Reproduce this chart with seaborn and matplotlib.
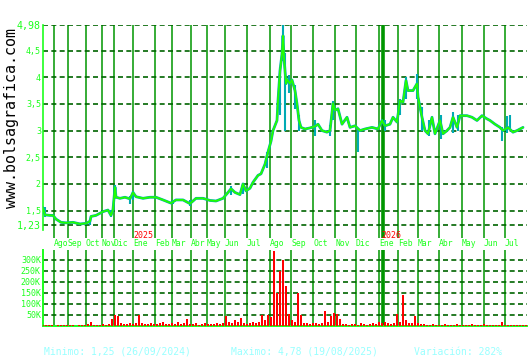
import numpy as np
import pandas as pd
import matplotlib
matplotlib.use("Agg")
import matplotlib.pyplot as plt
import seaborn as sns
from matplotlib.transforms import blended_transform_factory

# ---------------- data ----------------
price_day = [0,2,7,10,13,18,23,30,37,43,
             47,48,53,60,65,68,70,72,73,77,
             82,87,90,93,100,107,113,120,128,133,
             140,147,153,160,167,173,180,185,188,192,
             197,200,203,207,210,215,218,222,225,228,
             230,234,235,237,239,240,241,243,244,247,
             249,252,254,256,258,262,267,272,275,279,
             284,287,290,292,295,299,304,307,312,317,
             322,329,335,339,342,347,350,354,357,360,
             363,365,370,374,375,379,382,385,389,392,
             397,400,404,407,410,414,417,424,429,434,
             439,444,447,452,457,460,465,470,474,477,
             480]
price_close = [1.55,1.42,1.41,1.41,1.34,1.28,1.27,1.28,1.25,1.26,
               1.30,1.39,1.41,1.48,1.51,1.41,1.52,1.94,1.75,1.73,
               1.75,1.72,1.84,1.76,1.73,1.75,1.75,1.70,1.64,1.70,
               1.70,1.63,1.73,1.73,1.69,1.68,1.73,1.84,1.91,1.84,
               1.80,2.00,1.87,1.92,2.03,2.16,2.19,2.37,2.60,2.80,
               3.00,3.19,3.56,4.12,4.44,4.78,4.37,3.88,3.96,3.88,
               3.95,3.75,3.50,3.19,3.06,3.03,3.05,3.08,3.12,3.00,
               2.97,3.00,3.51,3.38,3.41,3.12,3.25,3.06,3.09,3.00,
               3.03,3.06,3.03,3.19,3.09,3.12,3.25,3.16,3.56,3.53,
               3.94,3.75,3.75,3.88,3.63,3.25,3.00,2.94,3.25,2.94,
               3.19,2.94,3.00,3.06,3.25,3.06,3.28,3.28,3.25,3.19,
               3.28,3.22,3.19,3.12,3.06,3.00,3.06,2.97,3.00,3.03,
               3.06]

spike_day = [2,47,68,72,87,90,130,147,188,200,
             224,237,240,242,246,252,256,272,287,290,
             315,342,357,363,374,379,386,398,410,415,
             459,464,467]
spike_lo = [1.38,1.23,1.38,1.75,1.62,1.70,1.62,1.58,1.80,1.82,
            2.30,3.30,4.30,3.00,3.70,3.40,3.00,2.90,2.90,3.20,
            2.60,3.00,3.30,3.60,3.60,3.00,2.90,2.85,2.95,3.00,
            2.80,2.95,3.05]
spike_hi = [1.57,1.35,1.52,1.98,1.78,1.86,1.70,1.70,1.97,2.02,
            2.60,4.20,4.98,4.45,4.05,3.85,3.30,3.20,3.10,3.55,
            3.05,3.20,3.60,4.00,4.06,3.45,3.20,3.30,3.35,3.30,
            3.06,3.28,3.30]

# volume in thousands, one bar every 3 trading days
volume_k = [4,3,5,3,2,4,3,5,3,4,3,2,4,6,5,8,18,6,4,5,8,6,10,
            30,48,45,15,
            10,8,12,9,14,
            52,
            12,8,10,15,9,7,12,20,10,8,14,10,18,9,12,
            30,
            10,8,12,6,9,14,8,10,7,12,9,15,
            45,
            20,15,25,18,
            37,
            15,10,12,20,14,18,
            48,25,52,40,340,150,250,300,180,55,25,20,150,50,
            15,12,10,14,12,10,15,
            70,20,45,60,55,30,
            10,8,6,10,7,5,12,8,6,9,14,10,
            18,15,20,12,
            10,15,55,20,140,25,12,15,45,15,
            10,8,6,5,8,4,6,5,7,4,5,6,8,5,4,6,5,7,4,6,5,8,4,5,6,4,5,20,6,4,5,3,5,4,6,4]
volume_day = list(np.arange(len(volume_k)) * 3)

month_day = [11,25,43,59,71,90,112,129,148,164,182,204,
             227,248,270,292,313,336,355,375,396,419,441,462]
month_labels = ["Ago","Sep","Oct","Nov","Dic","Ene","Feb","Mar","Abr","May","Jun","Jul",
                "Ago","Sep","Oct","Nov","Dic","Ene","Feb","Mar","Abr","May","Jun","Jul"]
extra_line_day = 340
year_day = [90, 338]
year_labels = ["2025", "2026"]

price_ticks = [1.23, 1.5, 2, 2.5, 3, 3.5, 4, 4.5, 4.98]
price_tick_labels = ["1,23", "1,5", "2", "2,5", "3", "3,5", "4", "4,5", "4,98"]
vol_ticks = [50e3, 100e3, 150e3, 200e3, 250e3, 300e3]
vol_tick_labels = ["50K", "100K", "150K", "200K", "250K", "300K"]

footer = ["Minimo: 1,25 (26/09/2024)", "Maximo: 4,78 (19/08/2025)", "Variación: 282%"]

# ---------------- style ----------------
sns.set_style("white")
plt.rcParams["font.family"] = ["DejaVu Sans Mono", "DejaVu Sans"]

BRIGHT = "#1CFF1C"
VGRID = "#009600"
HGRID = "#006400"
TEAL = "#00AAB4"
GREEN = "#22FF00"
RED = "#FF0000"
CYAN = "#99FFFF"
DASH = (0, (3, 2))

W, H = 530, 360
fig = plt.figure(figsize=(W / 100, H / 100), dpi=100)
fig.patch.set_facecolor("white")

ax = fig.add_axes([43 / W, 1 - 238 / H, 484 / W, 213 / H])
axv = fig.add_axes([43 / W, 1 - 326 / H, 484 / W, 76 / H])

for a in (ax, axv):
    a.set_facecolor("white")
    a.set_xlim(0, 484)
    for d in month_day:
        a.axvline(d, color=VGRID, lw=1.1, zorder=1)
    a.axvline(extra_line_day, color=VGRID, lw=2.6, zorder=1)
    for s in a.spines.values():
        s.set_visible(False)
    a.set_xticks([])
    a.tick_params(axis="y", length=0, pad=1.5, colors=BRIGHT)

# ---- price panel ----
ax.set_ylim(0.986, 4.98)
for t in price_ticks:
    ax.axhline(t, color=HGRID, lw=1.2, ls=DASH, zorder=1)

df = pd.DataFrame({"day": price_day, "close": price_close})
sns.lineplot(data=df, x="day", y="close", ax=ax, color=TEAL, lw=2.0,
             estimator=None, sort=False, zorder=3)
ax.vlines(spike_day, spike_lo, spike_hi, color=TEAL, lw=1.5, zorder=3)
sns.lineplot(data=df, x="day", y="close", ax=ax, color=GREEN, lw=1.3,
             estimator=None, sort=False, zorder=4)

ax.set_yticks(price_ticks, price_tick_labels)
for lbl, t in zip(ax.get_yticklabels(), price_ticks):
    lbl.set_fontsize(7.2 if t in (1.23, 4.98) else 6)
    lbl.set_color(BRIGHT)
ax.set_xlabel("")
ax.set_ylabel("")
ax.spines["left"].set_visible(True)
ax.spines["left"].set_color(BRIGHT)
ax.spines["left"].set_linewidth(1.2)
ax.spines["left"].set_bounds(1.136, 4.98)

# ---- volume panel ----
vdf = pd.DataFrame({"day": volume_day, "vol": np.array(volume_k) * 1000.0})
sns.histplot(data=vdf, x="day", weights="vol", binwidth=3, binrange=(-1.5, 484.5),
             shrink=0.7, color=RED, alpha=1, edgecolor="none", linewidth=0,
             ax=axv, zorder=3)
axv.set_xlim(0, 484)
axv.set_ylim(0, 345e3)
for t in vol_ticks:
    axv.axhline(t, color=HGRID, lw=1.2, ls=DASH, zorder=1)
axv.set_yticks(vol_ticks, vol_tick_labels)
for lbl in axv.get_yticklabels():
    lbl.set_fontsize(6)
    lbl.set_color(BRIGHT)
axv.set_xlabel("")
axv.set_ylabel("")
axv.set_xticks([])
for side in ("left", "bottom"):
    axv.spines[side].set_visible(True)
    axv.spines[side].set_color(BRIGHT)
    axv.spines[side].set_linewidth(1.4)

# ---- month / year labels ----
trans = blended_transform_factory(ax.transData, fig.transFigure)
for d, lab in zip(month_day, month_labels):
    ax.text(d, 1 - 244 / H, lab, transform=trans, ha="left", va="center",
            fontsize=5.8, color=BRIGHT, clip_on=False)
for d, lab in zip(year_day, year_labels):
    ax.text(d, 1 - 235.5 / H, lab, transform=trans, ha="left", va="center",
            fontsize=6, color=RED, clip_on=False)

# ---- site text ----
fig.text(12 / W, 1 - 118 / H, "www.bolsagrafica.com", rotation=90,
         ha="center", va="center", fontsize=10.8, color="black")

# ---- footer ----
for x0, txt in zip([44, 231, 414], footer):
    fig.text(x0 / W, 1 - 352 / H, txt, ha="left", va="center",
             fontsize=7, color=CYAN)

fig.savefig("out.png", dpi=100, facecolor="white")
